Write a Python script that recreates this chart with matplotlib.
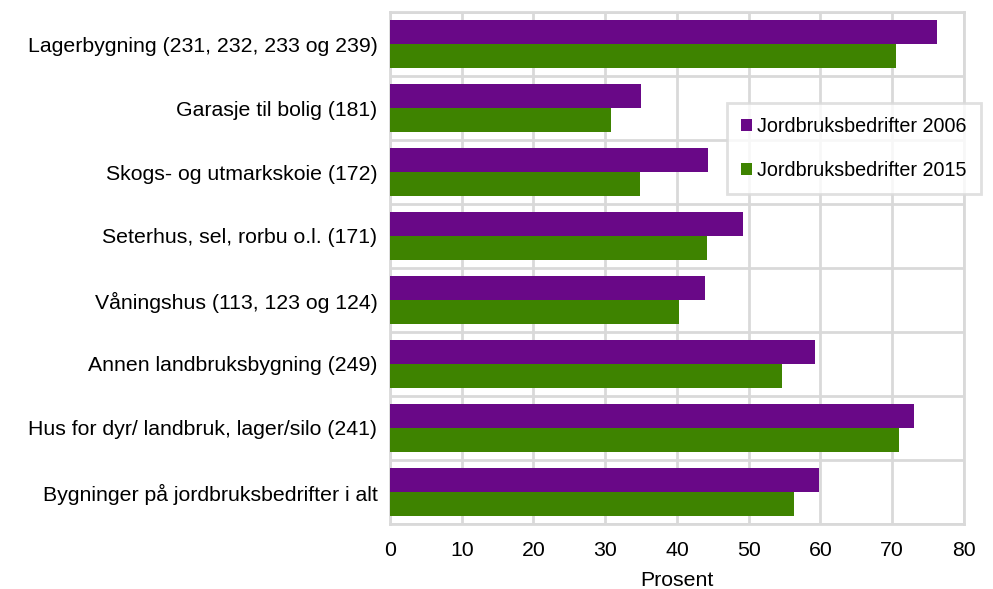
import numpy as np
import matplotlib
matplotlib.use("Agg")
from matplotlib import pyplot as plt
from matplotlib.patches import Patch

plt.rcParams['font.family'] = ['Liberation Sans', 'DejaVu Sans']

# categories, bottom to top
categories = [
    'Bygninger på jordbruksbedrifter i alt',
    'Hus for dyr/ landbruk, lager/silo (241)',
    'Annen landbruksbygning (249)',
    'Våningshus (113, 123 og 124)',
    'Seterhus, sel, rorbu o.l. (171)',
    'Skogs- og utmarkskoie (172)',
    'Garasje til bolig (181)',
    'Lagerbygning (231, 232, 233 og 239)',
]
jb2006 = [59.8, 73.0, 59.2, 43.9, 49.2, 44.3, 35.0, 76.2]
jb2015 = [56.3, 70.9, 54.6, 40.3, 44.2, 34.8, 30.8, 70.5]
labels = ['Jordbruksbedrifter 2006', 'Jordbruksbedrifter 2015']
colors = ['#690887', '#3e8300']
grid_c = '#d9d9d9'

fig = plt.figure(figsize=(9.93, 5.89), dpi=100)
ax = fig.add_axes([0.3927, 0.1104, 0.5781, 0.8692])

y = np.arange(len(categories))
h = 0.375
ax.barh(y + h / 2, jb2006, height=h, color=colors[0], zorder=3)
ax.barh(y - h / 2, jb2015, height=h, color=colors[1], zorder=3)

ax.set_xlim(0, 80)
ax.set_ylim(-0.5, len(categories) - 0.5)
ax.set_xticks(np.arange(0, 81, 10))
ax.set_yticks(y)
ax.set_yticklabels(categories, fontsize=15.3)
ax.set_yticks(np.arange(-0.5, len(categories), 1), minor=True)
ax.tick_params(axis='x', labelsize=15.3, length=0, pad=12)
ax.tick_params(axis='y', which='both', length=0, pad=9)
ax.grid(axis='x', color=grid_c, linewidth=2, zorder=0)
ax.grid(axis='y', which='minor', color=grid_c, linewidth=2, zorder=0)
for s in ax.spines.values():
    s.set_color(grid_c)
    s.set_linewidth(2)
ax.set_xlabel('Prosent', fontsize=15.3, labelpad=8)

handles = [Patch(facecolor=c) for c in colors]
leg = fig.legend(handles, labels, loc='upper left', bbox_to_anchor=(727 / 993, 1 - 103 / 589),
                 fontsize=14.2, frameon=True, fancybox=False, handlelength=0.55, handleheight=0.55,
                 handletextpad=0.25, labelspacing=1.25, borderpad=0.72, borderaxespad=0)
leg.get_frame().set_edgecolor(grid_c)
leg.get_frame().set_linewidth(2)

fig.savefig('out.png', dpi=100)
